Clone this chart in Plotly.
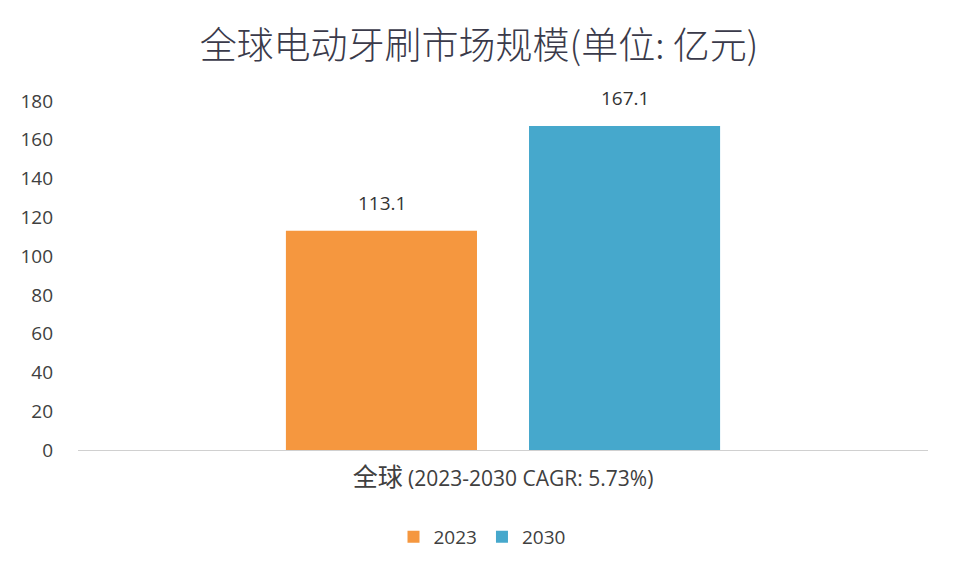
import plotly.graph_objects as go

categories = ["全球 (2023-2030 CAGR: 5.73%)"]
category_labels = ["<span style='font-size:25px'>全球</span> (2023-2030 CAGR: 5.73%)"]
series_names = ["2023", "2030"]
values_2023 = [113.1]
values_2030 = [167.1]
colors = ["#F5973F", "#46A8CC"]
tick_vals = [0, 20, 40, 60, 80, 100, 120, 140, 160, 180]

font_fam = "Open Sans, Noto Sans CJK SC, sans-serif"

fig = go.Figure()
offsets = [-121.5, 121.5]
for name, vals, c, dx in zip(series_names, [values_2023, values_2030], colors, offsets):
    fig.add_trace(go.Bar(
        x=categories, y=vals, name=name, marker=dict(color=c, line=dict(width=0)),
    ))
    for cat, v in zip(categories, vals):
        fig.add_annotation(x=cat, y=v, xref="x", yref="y", text=f"{v:.1f}",
                           showarrow=False, yanchor="bottom", xanchor="center",
                           xshift=dx, yshift=13,
                           font=dict(size=19, color="#333333", family=font_fam))

fig.update_layout(
    width=952, height=568,
    paper_bgcolor="white", plot_bgcolor="white",
    margin=dict(l=70, r=32, t=93, b=126, autoexpand=False),
    barmode="group", bargap=0.428, bargroupgap=0.214,
    title=dict(text="全球电动牙刷市场规模(单位: 亿元)", x=(479 - 8) / 952, xanchor="center",
               y=1 - (46 - 8) / 568, yanchor="middle",
               font=dict(size=37, color="#3a3a4a", weight=300,
                         family="Noto Sans CJK SC, sans-serif")),
    yaxis=dict(range=[0, 180], tickvals=tick_vals, showgrid=False, zeroline=False,
               showline=False, ticks="", ticklabelstandoff=24, automargin=False,
               tickfont=dict(size=19, color="#404040", family=font_fam)),
    xaxis=dict(showline=True, linecolor="#d0d0d0", linewidth=1, ticks="", automargin=False,
               tickvals=categories, ticktext=category_labels,
               ticklabelstandoff=10,
               tickfont=dict(size=21, color="#404040", family=font_fam)),
    legend=dict(orientation="h", x=(482 - 78) / 850, xanchor="center", y=-87 / 349, yanchor="middle",
                font=dict(size=19, color="#404040", family=font_fam),
                itemwidth=30, tracegroupgap=0),
    showlegend=True,
)
fig.write_html("out.html")
